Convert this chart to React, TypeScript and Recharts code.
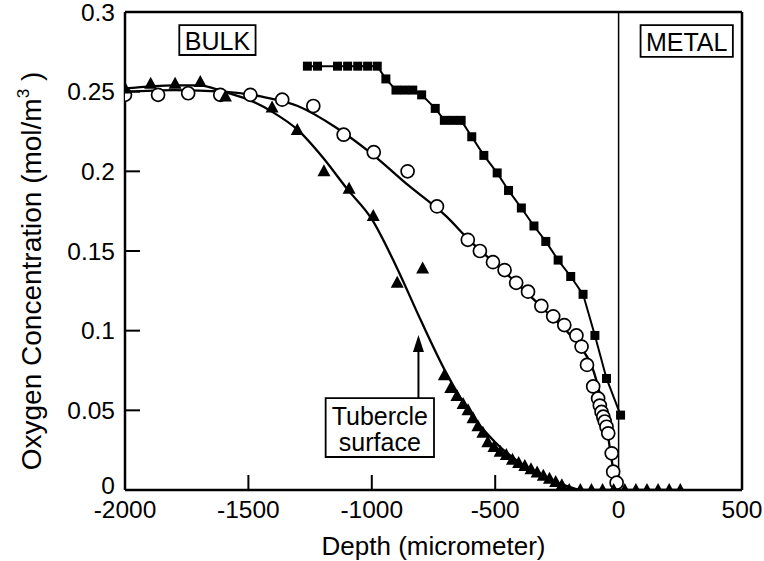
import { ComposedChart, Line, Scatter, XAxis, YAxis, ReferenceLine, ReferenceArea, ReferenceDot } from 'recharts'

// open circles
const circleDepth = [-2000, -1866, -1744, -1614, -1492, -1363, -1237, -1114, -992, -855, -736, -611, -562, -509, -462, -415, -367, -313, -265, -220, -171, -150, -128, -103, -83, -76, -69, -62, -56, -49, -42, -28, -22, -8]
const circleConc = [0.248, 0.248, 0.249, 0.248, 0.248, 0.245, 0.241, 0.223, 0.212, 0.2, 0.178, 0.157, 0.15, 0.143, 0.138, 0.13, 0.1245, 0.1155, 0.109, 0.1035, 0.097, 0.09, 0.0785, 0.065, 0.0575, 0.053, 0.049, 0.046, 0.043, 0.0397, 0.0356, 0.023, 0.0115, 0.0046]
const circleFitDepth = [-2000, -1800, -1600, -1450, -1300, -1150, -1000, -850, -700, -600, -500, -400, -300, -200, -150, -100, -70, -45, -25, 0]
const circleFitConc = [0.25, 0.251, 0.25, 0.247, 0.241, 0.228, 0.211, 0.191, 0.172, 0.156, 0.142, 0.128, 0.113, 0.098, 0.089, 0.074, 0.056, 0.036, 0.016, 0]

// filled triangles
const triDepth = [-2000, -1896, -1797, -1695, -1593, -1404, -1302, -1194, -1092, -994, -897, -794, -706, -680, -655, -630, -610, -590, -570, -550, -530, -505, -480, -455, -430, -405, -380, -355, -330, -305, -280, -255, -230, -200, -155, -110, -65, -20, 25, 70, 115, 160, 205, 250]
const triConc = [0.252, 0.255, 0.255, 0.256, 0.247, 0.24, 0.226, 0.2, 0.189, 0.172, 0.13, 0.139, 0.072, 0.064, 0.059, 0.054, 0.05, 0.045, 0.04, 0.036, 0.03, 0.027, 0.024, 0.022, 0.019, 0.017, 0.015, 0.013, 0.011, 0.009, 0.007, 0.005, 0.003, 0, 0, 0, 0, 0, 0, 0, 0, 0, 0, 0]
const triFitDepth = [-2000, -1800, -1700, -1600, -1500, -1400, -1300, -1200, -1100, -1000, -900, -800, -700, -600, -500, -400, -300, -200, -150, 250]
const triFitConc = [0.252, 0.254, 0.254, 0.25, 0.245, 0.237, 0.226, 0.209, 0.189, 0.17, 0.14, 0.106, 0.074, 0.048, 0.03, 0.017, 0.008, 0.002, 0, 0]

// filled squares
const sqDepth = [-1261, -1220, -1139, -1098, -1057, -1017, -978, -943, -902, -868, -834, -798, -743, -706, -672, -638, -595, -546, -492, -446, -394, -343, -295, -245, -194, -144, -96, -49, 8]
const sqConc = [0.266, 0.266, 0.266, 0.266, 0.266, 0.266, 0.266, 0.258, 0.251, 0.251, 0.251, 0.248, 0.2395, 0.232, 0.232, 0.232, 0.2217, 0.21, 0.199, 0.188, 0.177, 0.1657, 0.156, 0.1443, 0.134, 0.1228, 0.097, 0.07, 0.047]

const xTicks = [-2000, -1500, -1000, -500, 0, 500]
const yTicks = [0, 0.05, 0.1, 0.15, 0.2, 0.25, 0.3]

const zip = (xs: number[], ys: number[]) => xs.map((x, i) => ({ x, y: ys[i] }))
const circles = zip(circleDepth, circleConc)
const circleFit = zip(circleFitDepth, circleFitConc)
const triangles = zip(triDepth, triConc)
const triFit = zip(triFitDepth, triFitConc)
const squares = zip(sqDepth, sqConc)

const font = 'Liberation Sans, Arial, Helvetica, sans-serif'

const YTick = (props: any) => {
  const { x, y, payload } = props
  const v = payload.value
  return (
    <g>
      {v > 0 && v < 0.3 && <line x1={x} x2={x + 15} y1={y} y2={y} stroke="#000" strokeWidth={2} />}
      <text x={x - 10} y={v === 0 ? y - 5 : y} textAnchor="end" dominantBaseline="central" fontSize={24.5} fontFamily={font} fill="#000">
        {String(v)}
      </text>
    </g>
  )
}

const XTick = (props: any) => {
  const { x, y, payload } = props
  const v = payload.value
  return (
    <g>
      {v > -2000 && v < 0 && <line x1={x} x2={x} y1={y} y2={y - 15} stroke="#000" strokeWidth={2} />}
      <text x={x} y={y + 28} textAnchor="middle" fontSize={24.5} fontFamily={font} fill="#000">
        {String(v)}
      </text>
    </g>
  )
}

const boxText = (lines: string[]) => (p: any) => {
  const vb = p.viewBox
  const cx = vb.x + vb.width / 2
  const cy = vb.y + vb.height / 2
  const lh = 26
  const start = cy - ((lines.length - 1) * lh) / 2
  return (
    <text textAnchor="middle" fontSize={25} fontFamily={font} fill="#000">
      {lines.map((l, i) => (
        <tspan key={i} x={cx} y={start + i * lh + 1} dominantBaseline="central">
          {l}
        </tspan>
      ))}
    </text>
  )
}

const Tri = (p: any) => <polygon points={`${p.cx},${p.cy - 7} ${p.cx - 6.5},${p.cy + 5} ${p.cx + 6.5},${p.cy + 5}`} fill="#000" />
const Circ = (p: any) => <circle cx={p.cx} cy={p.cy} r={6.5} fill="#fff" stroke="#000" strokeWidth={1.7} />
const Sq = (p: any) => <rect x={p.cx - 4.5} y={p.cy - 4.5} width={9} height={9} fill="#000" />
const ArrowHead = (p: any) => <polygon points={`${p.cx},${p.cy} ${p.cx - 5.5},${p.cy + 17} ${p.cx + 5.5},${p.cy + 17}`} fill="#000" />

export default function App() {
  return (
    <div style={{ position: 'absolute', left: 0, top: 0, background: '#fff' }}>
      <ComposedChart width={764} height={561} margin={{ top: 12, right: 22, bottom: 0, left: 0 }}>
        <XAxis
          type="number"
          dataKey="x"
          domain={[-2000, 500]}
          ticks={xTicks}
          interval={0}
          height={71}
          tickSize={0}
          tickMargin={0}
          tickLine={false}
          axisLine={{ stroke: '#000', strokeWidth: 2.5 }}
          tick={<XTick />}
          allowDataOverflow
          label={{
            value: 'Depth (micrometer)',
            position: 'insideBottom',
            offset: 6,
            style: { fontSize: 26, fontFamily: font, fill: '#000' },
          }}
        />
        <YAxis
          type="number"
          dataKey="y"
          domain={[0, 0.3]}
          ticks={yTicks}
          interval={0}
          width={125}
          tickSize={0}
          tickMargin={0}
          tickLine={false}
          axisLine={{ stroke: '#000', strokeWidth: 2.5 }}
          tick={<YTick />}
          allowDataOverflow
          label={(p: any) => {
            const vb = p.viewBox
            const tx = vb.x + 41
            const ty = vb.y + vb.height / 2 + 20
            return (
              <text x={tx} y={ty} transform={`rotate(-90 ${tx} ${ty})`} textAnchor="middle" fontSize={28} fontFamily={font} fill="#000">
                Oxygen Concentration (mol/m
                <tspan fontSize={17} dy={-12}>3</tspan>
                <tspan dy={12}> )</tspan>
              </text>
            )
          }}
        />
        <ReferenceLine y={0.3} stroke="#000" strokeWidth={2.5} />
        <ReferenceLine x={500} stroke="#000" strokeWidth={2.5} />
        <ReferenceLine x={0} stroke="#000" strokeWidth={1.5} />

        <Line data={triFit} dataKey="y" type="monotone" stroke="#000" strokeWidth={2.3} dot={false} isAnimationActive={false} />
        <Line data={circleFit} dataKey="y" type="monotone" stroke="#000" strokeWidth={2.3} dot={false} isAnimationActive={false} />
        <Line data={squares} dataKey="y" type="linear" stroke="#000" strokeWidth={2} dot={false} isAnimationActive={false} />

        <Scatter data={circles} dataKey="y" shape={<Circ />} isAnimationActive={false} />
        <Scatter data={triangles} dataKey="y" shape={<Tri />} isAnimationActive={false} />
        <Scatter data={squares} dataKey="y" shape={<Sq />} isAnimationActive={false} />

        <ReferenceArea x1={-1780} x2={-1471} y1={0.273} y2={0.2918} fill="#fff" fillOpacity={1} stroke="#000" strokeWidth={1.8} label={boxText(['BULK'])} />
        <ReferenceArea x1={89} x2={463} y1={0.2718} y2={0.2918} fill="#fff" fillOpacity={1} stroke="#000" strokeWidth={1.8} label={boxText(['METAL'])} />
        <ReferenceArea x1={-1187} x2={-748} y1={0.0207} y2={0.0577} fill="#fff" fillOpacity={1} stroke="#000" strokeWidth={1.8} label={boxText(['Tubercle', 'surface'])} />
        <ReferenceLine segment={[{ x: -811, y: 0.0577 }, { x: -811, y: 0.09 }]} stroke="#000" strokeWidth={2} />
        <ReferenceDot x={-811} y={0.0973} r={6} shape={<ArrowHead />} />
      </ComposedChart>
    </div>
  )
}
